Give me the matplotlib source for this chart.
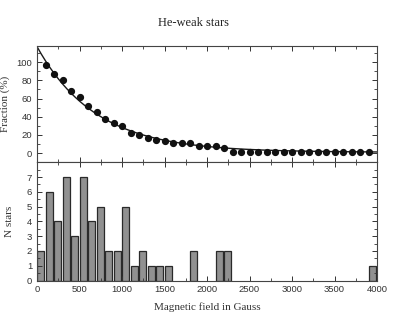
import numpy as np
import matplotlib
matplotlib.use("Agg")
import matplotlib.pyplot as plt
from matplotlib.ticker import MultipleLocator

# Histogram: number of stars per 100 G bin (bin left edges)
bin_left = [0, 100, 200, 300, 400, 500, 600, 700, 800, 900, 1000, 1100, 1200,
            1300, 1400, 1500, 1800, 2100, 2200, 3900]
n_stars = [2, 6, 4, 7, 3, 7, 4, 5, 2, 2, 5, 1, 2, 1, 1, 1, 2, 2, 2, 1]

# Cumulative fraction (%) points
frac_x = [100, 200, 300, 400, 500, 600, 700, 800, 900, 1000, 1100, 1200, 1300,
          1400, 1500, 1600, 1700, 1800, 1900, 2000, 2100, 2200, 2300, 2400,
          2500, 2600, 2700, 2800, 2900, 3000, 3100, 3200, 3300, 3400, 3500,
          3600, 3700, 3800, 3900]
frac_y = [97, 87, 80, 68, 62, 52, 45, 37, 33, 30, 22, 20, 17, 15, 13, 11.5,
          11.5, 11.5, 8, 8, 8, 5.5, 1.6, 1.6, 1.6, 1.6, 1.6, 1.6, 1.6, 1.6,
          1.6, 1.6, 1.6, 1.6, 1.6, 1.6, 1.6, 1.6, 1.6]

# Exponential fit parameters: y = y0 + A * exp(-B / tau)
fit_y0 = 1.0
fit_A = 116.0
fit_tau = 690.0

W, H = 393, 321
fig = plt.figure(figsize=(W / 100, H / 100), dpi=100)

left, right = 37 / W, 377 / W
top_top, mid, bot_bot = 45.7, 162.3, 280.5
ax1 = fig.add_axes([left, 1 - mid / H, right - left, (mid - top_top) / H])
ax2 = fig.add_axes([left, 1 - bot_bot / H, right - left, (bot_bot - mid) / H])

serif = "Liberation Serif"
sans = "Liberation Sans"

xx = np.linspace(0, 4000, 400)
ax1.plot(xx, fit_y0 + fit_A * np.exp(-xx / fit_tau), color="#1a1a1a", lw=1.0)
ax1.plot(frac_x, frac_y, "o", color="#111111", ms=4.2)
ax1.set_xlim(0, 4000)
ax1.set_xticklabels([])
ax1.set_ylabel("Fraction (%)", family=serif, fontsize=8, color="#333333")
ax1.yaxis.set_label_coords(-0.080, 0.5)

ax2.bar(bin_left, n_stars, width=88, align="edge", color="#919191",
        edgecolor="#2a2a2a", linewidth=0.9)
ax2.set_xlim(0, 4000)
ax2.set_ylim(0, 8)
ax2.set_yticks(range(0, 8))
ax2.yaxis.set_minor_locator(MultipleLocator(0.5))
ax2.set_ylabel("N stars", family=serif, fontsize=8, color="#333333")
ax2.yaxis.set_label_coords(-0.068, 0.5)
ax2.set_xlabel("Magnetic field in Gauss", family=serif, fontsize=8, color="#333333", labelpad=6)

for ax in (ax1, ax2):
    ax.xaxis.set_major_locator(MultipleLocator(500))
    ax.xaxis.set_minor_locator(MultipleLocator(250))
    ax.tick_params(which="both", direction="in", top=True, right=True,
                   labelsize=6.8, color="#333333", labelcolor="#333333")
    ax.tick_params(which="major", length=3.5, width=0.7)
    ax.tick_params(which="minor", length=2, width=0.6)
    for s in ax.spines.values():
        s.set_linewidth(0.8)
        s.set_color("#444444")

ax1.yaxis.set_major_locator(MultipleLocator(20))
ax1.yaxis.set_minor_locator(MultipleLocator(10))
ax1.set_ylim(-10, 118)
ax1.set_yticks([0, 20, 40, 60, 80, 100])
ax1.set_ylim(-10, 118)
for ax in (ax1, ax2):
    for lab in ax.get_xticklabels() + ax.get_yticklabels():
        lab.set_family(sans)

fig.text(194 / W, 1 - 23 / H, "He-weak stars", family=serif, fontsize=9,
         ha="center", va="center", color="#222222")

fig.savefig("out.png", dpi=100)
